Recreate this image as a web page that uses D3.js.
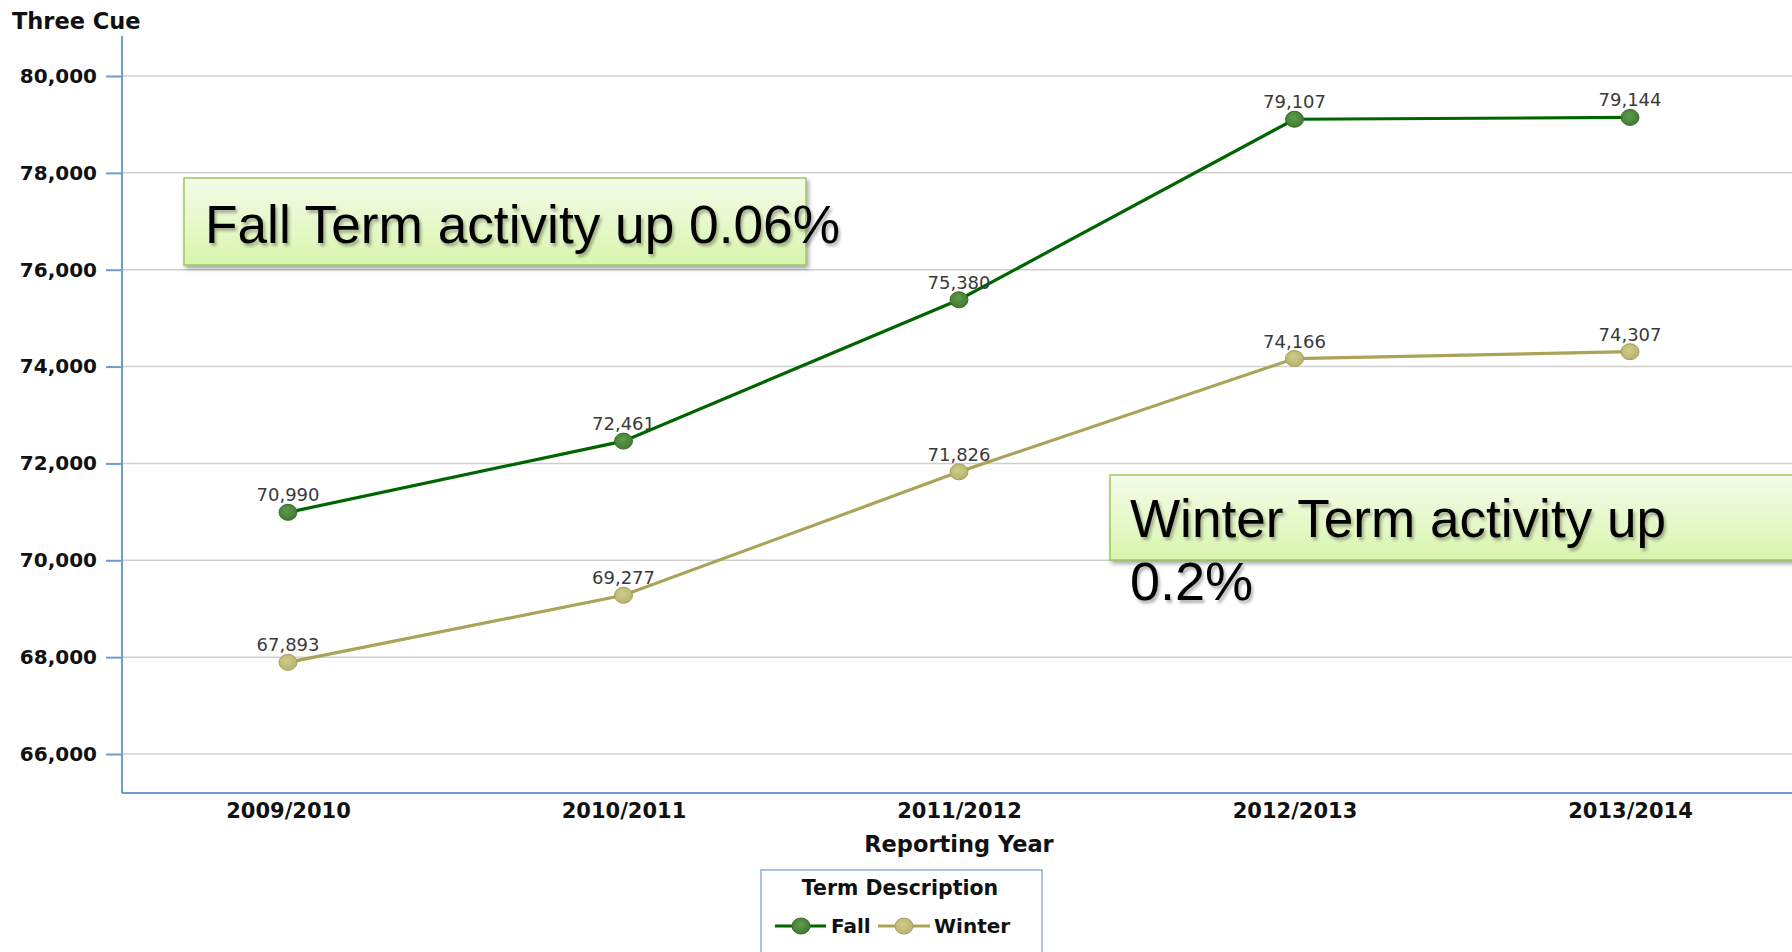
<!DOCTYPE html>
<html>
<head>
<meta charset="utf-8">
<script src="https://cdn.jsdelivr.net/npm/d3@7"></script>
<style>
  html, body { margin: 0; padding: 0; background: #fff; overflow: hidden; }
  svg { display: block; }
</style>
</head>
<body>
<svg id="chart" width="1792" height="952"></svg>
<script>
// Reporting years on the x axis
const years = ["2009/2010", "2010/2011", "2011/2012", "2012/2013", "2013/2014"];
// Three Cue counts per term
const fallValues = [70990, 72461, 75380, 79107, 79144];
const winterValues = [67893, 69277, 71826, 74166, 74307];
const seriesNames = ["Fall", "Winter"];
const yTickValues = [66000, 68000, 70000, 72000, 74000, 76000, 78000, 80000];
const fallNote = "Fall Term activity up 0.06%";
const winterNote = ["Winter Term activity up", "0.2%"];

const svg = d3.select("#chart");
const plotLeft = 122, plotBottom = 793, plotTop = 36, plotRight = 1800;

const x = d3.scalePoint().domain(years).range([288, 1630]);
const y = d3.scaleLinear().domain([65195, 80826]).range([plotBottom, plotTop]);

const axisBlue = "#6f9bd0";
const fallLine = "#006400", winterLine = "#aaa358";

const defs = svg.append("defs");
function radial(id, inner, outer) {
  const g = defs.append("radialGradient").attr("id", id).attr("cx", "45%").attr("cy", "40%").attr("r", "60%");
  g.append("stop").attr("offset", "0%").attr("stop-color", inner);
  g.append("stop").attr("offset", "100%").attr("stop-color", outer);
}
radial("fallDot", "#5f9c4c", "#3f7a32");
radial("winterDot", "#cfcb8c", "#b8b36e");

const boxGrad = defs.append("linearGradient").attr("id", "noteFill").attr("x1", 0).attr("y1", 0).attr("x2", 0).attr("y2", 1);
boxGrad.append("stop").attr("offset", "0%").attr("stop-color", "#f4fcea");
boxGrad.append("stop").attr("offset", "100%").attr("stop-color", "#d9f5ad");

const shadow = defs.append("filter").attr("id", "shadow").attr("x", "-10%").attr("y", "-20%").attr("width", "130%").attr("height", "160%");
shadow.append("feDropShadow").attr("dx", 2).attr("dy", 3).attr("stdDeviation", 2.2)
  .attr("flood-color", "#000").attr("flood-opacity", 0.35);
const textShadow = defs.append("filter").attr("id", "textShadow").attr("x", "-10%").attr("y", "-30%").attr("width", "130%").attr("height", "170%");
textShadow.append("feDropShadow").attr("dx", 2).attr("dy", 3).attr("stdDeviation", 1.8)
  .attr("flood-color", "#000").attr("flood-opacity", 0.3);

// Horizontal gridlines
svg.append("g").selectAll("line").data(yTickValues).join("line")
  .attr("x1", plotLeft).attr("x2", plotRight)
  .attr("y1", d => y(d)).attr("y2", d => y(d))
  .attr("stroke", "#cfcfcf").attr("stroke-width", 1.5);

// Y axis
const yAxis = svg.append("g").attr("transform", `translate(${plotLeft},0)`)
  .call(d3.axisLeft(y).tickValues(yTickValues).tickFormat(d3.format(",")).tickSize(16).tickPadding(9));
yAxis.select(".domain").remove();
yAxis.selectAll(".tick line").attr("stroke", axisBlue).attr("stroke-width", 2);
yAxis.selectAll(".tick text")
  .attr("font-family", "DejaVu Sans, sans-serif").attr("font-weight", "bold")
  .attr("font-size", 20).attr("fill", "#111");

svg.append("line").attr("x1", plotLeft).attr("x2", plotLeft).attr("y1", plotTop).attr("y2", plotBottom)
  .attr("stroke", axisBlue).attr("stroke-width", 2);
svg.append("line").attr("x1", plotLeft).attr("x2", plotRight).attr("y1", plotBottom).attr("y2", plotBottom)
  .attr("stroke", axisBlue).attr("stroke-width", 2);

// X axis labels
const xAxis = svg.append("g").attr("transform", `translate(0,${plotBottom})`)
  .call(d3.axisBottom(x).tickSize(0).tickPadding(10));
xAxis.select(".domain").remove();
xAxis.selectAll(".tick text")
  .attr("font-family", "DejaVu Sans, sans-serif").attr("font-weight", "bold")
  .attr("font-size", 21).attr("fill", "#111").attr("dy", "0.71em");

svg.append("text").attr("x", 959).attr("y", 852).attr("text-anchor", "middle")
  .attr("font-family", "DejaVu Sans, sans-serif").attr("font-weight", "bold")
  .attr("font-size", 22.5).attr("fill", "#111").text("Reporting Year");

svg.append("text").attr("x", 12).attr("y", 29).attr("font-family", "DejaVu Sans, sans-serif")
  .attr("font-weight", "bold").attr("font-size", 22.5).attr("fill", "#111").text("Three Cue");

// Series
const series = [
  { name: seriesNames[0], values: fallValues, line: fallLine, dot: "url(#fallDot)", dotStroke: "#3a6c2c" },
  { name: seriesNames[1], values: winterValues, line: winterLine, dot: "url(#winterDot)", dotStroke: "#a39d5c" }
];
const line = d3.line().x((d, i) => x(years[i])).y(d => y(d));

series.forEach(s => {
  const g = svg.append("g");
  g.append("path").datum(s.values).attr("d", line)
    .attr("fill", "none").attr("stroke", s.line).attr("stroke-width", 3.2);
  g.selectAll("ellipse").data(s.values).join("ellipse")
    .attr("cx", (d, i) => x(years[i])).attr("cy", d => y(d))
    .attr("rx", 9).attr("ry", 8)
    .attr("fill", s.dot).attr("stroke", s.dotStroke).attr("stroke-width", 1);
  g.selectAll("text").data(s.values).join("text")
    .attr("x", (d, i) => x(years[i])).attr("y", d => y(d) - 11)
    .attr("text-anchor", "middle")
    .attr("font-family", "DejaVu Sans, sans-serif").attr("font-size", 18)
    .attr("fill", "#3a3a3a").text(d => d3.format(",")(d));
});

// Callout notes
const noteFont = "Liberation Sans, Arial, sans-serif";
svg.append("rect").attr("x", 184).attr("y", 178).attr("width", 622).attr("height", 87)
  .attr("fill", "url(#noteFill)").attr("stroke", "#9cc761").attr("stroke-width", 1.5)
  .attr("filter", "url(#shadow)");
svg.append("text").attr("x", 205).attr("y", 243).attr("font-family", noteFont)
  .attr("font-size", 54).attr("fill", "#000").attr("filter", "url(#textShadow)")
  .attr("textLength", 635).attr("lengthAdjust", "spacingAndGlyphs")
  .text(fallNote);

svg.append("rect").attr("x", 1110).attr("y", 475).attr("width", 720).attr("height", 85)
  .attr("fill", "url(#noteFill)").attr("stroke", "#9cc761").attr("stroke-width", 1.5)
  .attr("filter", "url(#shadow)");
svg.append("text").attr("x", 1130).attr("y", 537).attr("font-family", noteFont)
  .attr("font-size", 54).attr("fill", "#000").attr("filter", "url(#textShadow)")
  .attr("textLength", 536).attr("lengthAdjust", "spacingAndGlyphs")
  .text(winterNote[0]);
svg.append("text").attr("x", 1130).attr("y", 600).attr("font-family", noteFont)
  .attr("font-size", 54).attr("fill", "#000").attr("filter", "url(#textShadow)")
  .text(winterNote[1]);

// Legend
const lg = svg.append("g");
lg.append("rect").attr("x", 761).attr("y", 870).attr("width", 281).attr("height", 100)
  .attr("fill", "#fff").attr("stroke", "#8fb0dc").attr("stroke-width", 1.5);
lg.append("text").attr("x", 900).attr("y", 895).attr("text-anchor", "middle")
  .attr("font-family", "DejaVu Sans, sans-serif").attr("font-weight", "bold")
  .attr("font-size", 20.5).attr("fill", "#111").text("Term Description");
const legendItems = [
  { s: series[0], x0: 775, x1: 826, cx: 801, tx: 831 },
  { s: series[1], x0: 878, x1: 930, cx: 904, tx: 934 }
];
legendItems.forEach(it => {
  lg.append("line").attr("x1", it.x0).attr("x2", it.x1).attr("y1", 926).attr("y2", 926)
    .attr("stroke", it.s.line).attr("stroke-width", 3);
  lg.append("ellipse").attr("cx", it.cx).attr("cy", 926).attr("rx", 9).attr("ry", 8)
    .attr("fill", it.s.dot).attr("stroke", it.s.dotStroke);
  lg.append("text").attr("x", it.tx).attr("y", 933)
    .attr("font-family", "DejaVu Sans, sans-serif").attr("font-weight", "bold")
    .attr("font-size", 20).attr("fill", "#111").text(it.s.name);
});
</script>
</body>
</html>
